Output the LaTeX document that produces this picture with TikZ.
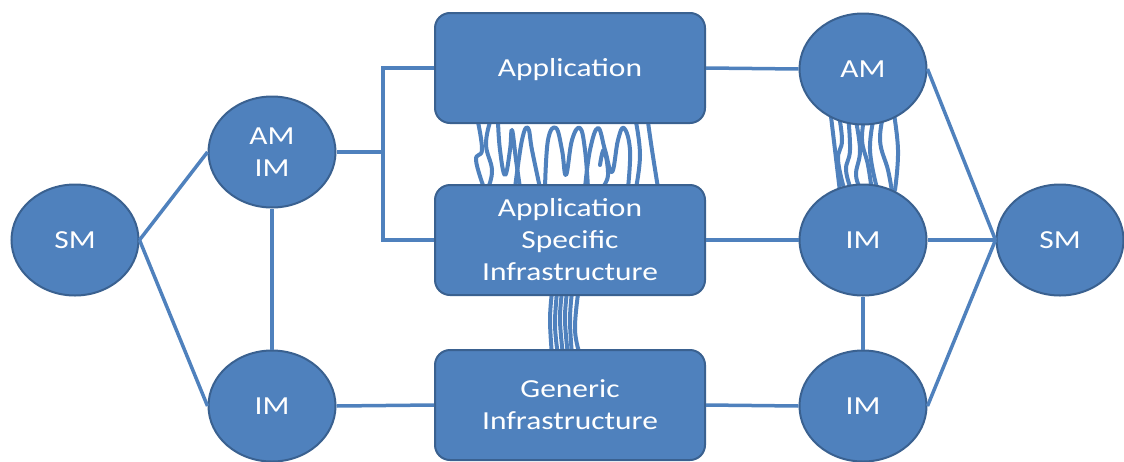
\documentclass[tikz,border=0pt]{standalone}
\usepackage{fontspec}
\setmainfont{Carlito}
\usetikzlibrary{shapes.geometric}
\definecolor{fillb}{HTML}{4F81BD}
\definecolor{edgeb}{HTML}{3A6190}
\newcommand{\sx}[1]{\scalebox{1.21}[1]{#1}}
\begin{document}
\begin{tikzpicture}[x=1pt,y=-1pt,
  ell/.style={ellipse, draw=edgeb, line width=2pt, fill=fillb, minimum width=127pt, minimum height=111pt, inner sep=0pt, text=white, font=\fontsize{26}{32}\selectfont, align=center},
  boxn/.style={rectangle, rounded corners=15pt, draw=edgeb, line width=2pt, fill=fillb, minimum width=270pt, minimum height=110pt, inner sep=0pt, text=white, font=\fontsize{26}{32}\selectfont, align=center},
  conn/.style={draw=fillb, line width=3.5pt},
  squig/.style={draw=fillb, line width=4pt, line cap=round, line join=round}]
\useasboundingbox (0,0) rectangle (1124,461);

% scribbles (drawn behind the boxes)
\foreach \pts in {
  {(478,122) (482,150) (476,160) (484,188)},
  {(490,122) (486,145) (492,170) (488,188)},
  {(498,122) (500,150) (505,175) (510,150) (512,130) (516,160) (520,188)},
  {(515,188) (522,140) (528,128) (532,150) (540,188)},
  {(545,188) (548,140) (556,128) (562,150) (566,175) (572,140) (580,128) (585,150) (588,188)},
  {(585,188) (590,150) (598,128) (605,150) (612,172) (618,140) (624,128) (630,150) (628,188)},
  {(600,165) (604,150) (608,175) (602,188)},
  {(636,122) (640,155) (636,188)},
  {(648,122) (652,150) (658,188)},
  {(830,108) (835,150) (840,192)},
  {(838,110) (842,140) (838,160) (845,192)},
  {(848,114) (850,150) (846,170) (852,192)},
  {(855,116) (860,150) (856,175) (862,192)},
  {(865,114) (862,140) (868,165) (872,192)},
  {(875,112) (870,150) (878,192)},
  {(885,108) (880,140) (888,170) (892,192)},
  {(893,108) (898,150) (895,190)},
  {(552,292) (550,320) (552,355)},
  {(557,292) (555,325) (558,355)},
  {(562,292) (560,320) (563,355)},
  {(567,292) (565,320) (568,355)},
  {(572,292) (570,320) (572,355)},
  {(578,294) (575,330) (580,355)}}
  \draw[squig] plot[smooth, tension=0.7] coordinates \pts;

% nodes
\node[ell] (sml) at (75,240) {\sx{SM}};
\node[ell] (amim) at (272,152) {\sx{AM}\\\sx{IM}};
\node[ell] (iml) at (272,406) {\sx{IM}};
\node[boxn, text height=20pt, text depth=3pt] (app) at (570,68) {\sx{Application}};
\node[boxn] (asi) at (570,240) {\sx{Application}\\\sx{Specific}\\\sx{Infrastructure}};
\node[boxn] (gen) at (570,405) {\sx{Generic}\\\sx{Infrastructure}};
\node[ell] (amr) at (863,69) {\sx{AM}};
\node[ell] (imm) at (863,240) {\sx{IM}};
\node[ell] (imr) at (863,406) {\sx{IM}};
\node[ell] (smr) at (1060,240) {\sx{SM}};
\coordinate (br) at (383,152);

% connectors
\draw[conn] (sml.east) -- (amim.west);
\draw[conn] (sml.east) -- (iml.west);
\draw[conn] (amim.south) -- (iml.north);
\draw[conn] (amim.east) -- (br);
\draw[conn] (app.west) -| (br);
\draw[conn] (asi.west) -| (br);
\draw[conn] (iml.east) -- (gen.west);
\draw[conn] (app.east) -- (amr.west);
\draw[conn] (asi.east) -- (imm.west);
\draw[conn] (gen.east) -- (imr.west);
\draw[conn] (imm.south) -- (imr.north);
\draw[conn] (amr.east) -- (smr.west);
\draw[conn] (imm.east) -- (smr.west);
\draw[conn] (imr.east) -- (smr.west);
\end{tikzpicture}
\end{document}
